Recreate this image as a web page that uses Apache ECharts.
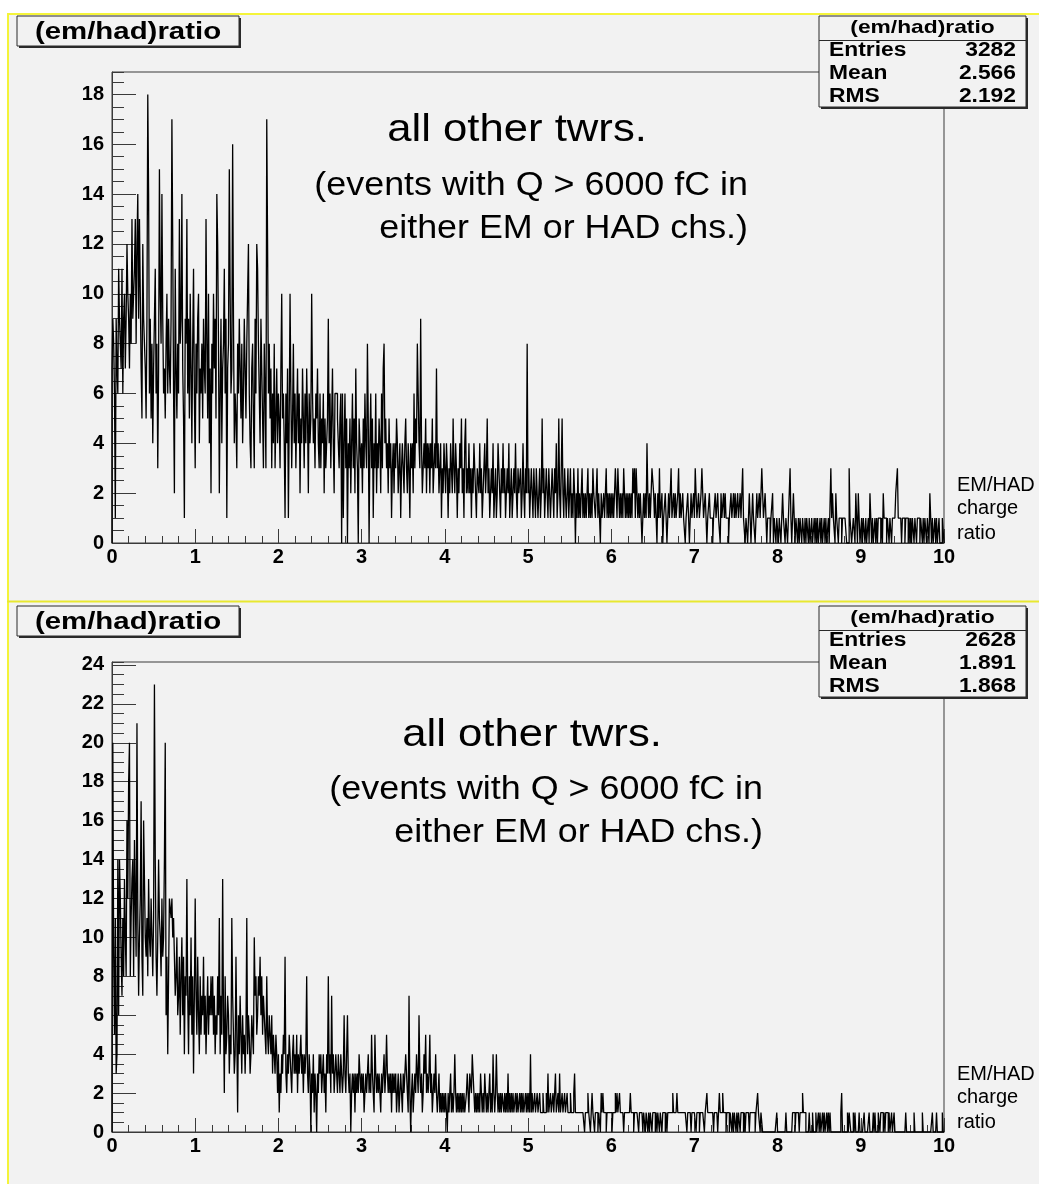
<!DOCTYPE html>
<html>
<head>
<meta charset="utf-8">
<title>(em/had)ratio</title>
<script src="https://cdn.jsdelivr.net/npm/echarts@6/dist/echarts.min.js"></script>
<style>
  html, body { margin: 0; padding: 0; background: #ffffff; }
  #chart { width: 1039px; height: 1184px; }
</style>
</head>
<body>
<div id="chart"></div>
<script>
// ---- histogram contents: 1000 bins of width 0.01 over [0, 10) ----
const BIN_WIDTH = 0.01;

// upper pad, one array per unit of the ratio
const upper0to1 = [
  7,9,8,6,1,9,7,6,11,9,   8,7,11,6,9,10,7,9,12,10,
  9,7,10,8,13,9,10,11,13,8, 12,14,9,13,10,7,5,12,9,8,
  7,5,9,18,14,6,9,5,8,4,  7,9,11,6,8,3,7,15,10,8,
  14,9,6,7,5,8,10,6,9,7,  6,9,17,12,6,2,11,7,5,8,
  6,13,8,9,14,7,5,1,9,8,  13,6,9,5,10,7,4,8,11,6
];
const upper1to2 = [
  3,8,6,9,10,4,7,6,8,5,   9,7,6,13,8,5,10,4,7,2,
  8,6,10,7,9,5,14,12,8,2, 6,9,4,7,8,11,6,9,1,7,
  8,15,10,6,7,16,9,4,6,5, 3,8,6,9,7,5,8,4,6,9,
  7,5,8,10,12,6,4,3,7,8,  5,3,9,6,12,11,8,6,4,9,
  7,5,3,8,6,3,17,12,6,8,  5,7,3,6,4,8,3,5,7,4
];
const upper2to3 = [
  6,5,3,7,10,5,6,4,1,6,   4,7,1,5,10,6,3,5,8,4,
  6,3,5,7,4,6,2,5,4,7,    5,3,6,4,7,5,2,6,4,5,
  10,6,4,5,3,6,5,7,4,3,   6,3,5,4,6,2,5,3,4,5,
  9,4,6,3,5,7,4,2,6,6,    6,5,4,3,5,6,0,6,1,4,
  6,3,5,0,4,3,5,2,4,6,    3,5,2,7,4,3,0,5,4,3
];
const upper3to4 = [
  4,2,5,3,6,4,3,8,5,0,    4,6,3,5,1,4,3,6,2,4,
  3,5,4,2,6,3,7,8,4,5,    3,4,2,5,3,4,1,3,4,2,
  4,3,5,4,2,3,4,1,3,4,    3,2,4,5,3,2,4,3,1,4,
  3,4,2,6,3,5,4,8,6,4,    3,9,4,2,3,4,3,5,2,4,
  3,4,2,4,3,5,2,3,4,3,    7,3,4,2,3,4,1,3,2,4
];
const upper4to5 = [
  3,2,4,3,1,3,2,4,3,2,    5,3,2,4,3,1,3,2,4,3,
  5,2,3,1,4,5,2,3,2,4,    2,3,1,3,2,4,3,2,1,3,
  3,2,4,2,3,1,2,3,4,2,    3,5,2,3,1,2,3,2,4,1,
  2,3,1,2,4,3,2,1,3,2,    4,2,3,1,2,3,2,4,1,2,
  3,1,2,3,2,4,2,1,3,2,    2,3,1,2,4,2,1,3,2,8
];
const upper5to6 = [
  2,3,1,2,3,2,1,3,2,1,    3,2,1,2,3,1,2,5,2,3,
  1,2,3,2,1,3,2,1,2,3,    2,1,3,2,4,1,2,5,2,1,
  3,5,2,1,3,2,1,2,3,1,    2,3,1,2,1,3,2,0,2,1,
  3,1,2,1,2,3,1,2,1,2,    1,2,3,1,2,1,2,1,3,2,
  2,1,2,3,1,2,1,0,2,1,    1,2,1,2,3,1,2,1,2,1
];
const upper6to7 = [
  2,1,2,1,2,3,2,1,3,2,    1,2,1,2,1,3,2,1,2,1,
  2,1,2,1,2,1,3,2,3,1,    3,2,1,2,1,2,1,0,1,2,
  1,2,1,4,2,1,2,1,2,3,    3,2,1,2,1,0,2,1,3,1,
  1,2,0,1,1,2,1,0,1,2,    1,2,3,1,1,2,1,2,1,1,
  2,3,1,2,1,1,2,1,1,0,    1,1,2,1,0,1,2,1,1,2
];
const upper7to8 = [
  1,3,2,1,1,2,1,1,2,3,    3,1,1,2,1,0,1,1,2,1,
  1,1,0,1,1,2,1,1,2,1,    1,0,2,1,1,2,1,2,1,1,
  1,0,1,1,2,1,1,2,1,2,    1,1,2,1,1,2,1,1,3,1,
  1,0,1,1,0,1,2,1,0,1,    2,1,1,0,1,2,1,1,2,1,
  2,3,2,1,1,2,1,0,1,1,    1,0,1,1,2,0,1,1,0,1
];
const upper8to9 = [
  1,0,1,1,0,1,2,1,1,0,    1,1,0,1,1,3,1,0,1,2,
  1,0,1,1,0,1,0,1,1,0,    1,1,0,1,0,1,1,0,1,0,
  0,1,0,0,1,0,1,0,1,0,    0,1,0,1,0,0,1,0,1,0,
  0,1,0,0,3,1,2,1,1,0,    2,1,1,0,1,1,1,0,1,1,
  1,1,1,0,0,0,3,1,1,0,    0,1,1,0,2,1,0,2,1,0
];
const upper9to10 = [
  0,1,0,1,1,0,1,0,0,1,    0,2,1,0,1,0,0,1,0,1,
  0,1,1,1,0,1,0,2,1,1,    1,0,1,1,0,1,1,0,1,1,
  1,1,2,2,3,1,1,1,1,0,    1,1,1,0,1,1,1,0,1,0,
  1,0,1,1,0,1,1,0,1,1,    1,0,1,1,0,1,0,1,1,0,
  1,1,0,2,1,0,1,0,0,1,    0,1,0,0,1,0,0,0,1,1
];

// lower pad
const lower0to1 = [
  3,20,9,5,11,3,4,14,6,14,  12,9,7,11,8,13,10,8,16,12,
  18,20,8,11,13,14,8,15,12,9, 21,11,7,10,12,17,9,7,16,13,
  10,9,11,8,13,10,9,12,10,8, 11,23,14,9,7,10,14,11,10,8,
  12,9,10,14,20,6,9,4,8,12, 12,11,12,10,11,9,7,8,10,6,
  7,9,5,8,10,6,9,4,8,7,     13,7,4,8,6,10,5,8,3,7
];
const lower1to2 = [
  12,7,5,9,6,4,8,5,7,6,   9,5,7,4,6,8,5,7,6,8,
  6,8,5,7,4,6,5,8,6,11,   4,7,5,13,6,2,8,4,5,7,
  6,3,5,4,11,7,5,3,4,9,   5,1,6,4,7,5,3,6,4,5,
  3,5,11,4,6,5,3,4,6,5,   4,10,7,8,5,6,8,7,9,6,
  8,5,7,6,5,4,8,5,4,6,    5,4,6,3,5,4,3,5,4,2
];
const lower2to3 = [
  4,1,3,2,4,3,5,4,9,3,    2,4,3,5,4,3,2,4,5,3,
  4,3,5,2,4,3,4,5,3,4,    2,4,3,4,8,3,2,4,3,0,
  3,2,4,1,3,2,0,3,2,4,    3,4,2,3,4,2,3,1,4,3,
  8,3,4,2,7,3,4,2,3,4,    3,2,4,3,2,4,3,2,3,6,
  3,2,4,6,3,2,3,0,2,3,    2,3,1,3,2,3,2,4,3,2
];
const lower3to4 = [
  3,2,3,1,2,3,2,3,4,2,    3,2,5,3,2,1,5,3,2,3,
  2,3,2,1,3,2,3,4,2,3,    5,3,2,3,2,3,1,3,2,3,
  2,3,1,2,3,1,2,3,2,1,    3,2,3,4,4,2,1,7,2,0,
  2,3,1,2,3,2,4,3,2,6,    3,2,3,1,2,4,3,5,2,3,
  2,3,5,2,3,1,2,3,2,4,    2,1,2,3,1,2,1,2,1,2
];
const lower4to5 = [
  1,2,1,0,2,1,2,3,1,2,    1,2,4,2,1,2,1,2,1,2,
  1,2,1,2,1,1,2,3,2,1,    3,3,2,4,3,2,1,2,1,2,
  1,2,1,3,2,1,2,1,3,2,    1,2,1,2,3,1,2,1,4,2,
  1,2,4,2,1,2,1,2,1,2,    2,1,2,1,2,1,3,1,2,1,
  2,1,2,1,1,2,1,2,1,1,    2,1,2,1,2,1,1,2,1,2
];
const lower5to6 = [
  1,2,1,4,1,2,1,1,2,1,    1,2,1,1,2,1,1,1,2,1,
  1,1,2,1,3,1,1,2,1,1,    2,1,1,3,1,1,2,1,3,1,
  1,2,1,1,2,1,1,2,1,1,    1,2,1,1,1,2,3,1,1,1,
  1,1,1,1,1,1,1,1,0,1,    1,1,2,1,1,0,1,2,1,1,
  0,1,1,1,0,1,1,0,2,1,    2,1,1,1,0,1,1,1,1,1
];
const lower6to7 = [
  1,0,1,1,1,2,1,2,1,1,    2,1,1,1,1,0,1,1,1,1,
  1,1,1,2,1,1,1,0,1,1,    1,1,1,0,1,1,1,1,0,1,
  1,0,1,1,0,1,0,1,1,0,    1,1,1,0,1,0,1,1,0,1,
  1,0,1,1,1,0,1,0,1,1,    1,1,1,1,2,1,1,1,1,2,
  1,1,1,1,1,1,1,1,1,1,    1,0,1,1,1,1,0,1,1,1
];
const lower7to8 = [
  1,1,0,1,1,1,0,1,1,1,    1,1,0,1,1,2,1,1,1,1,
  1,1,1,0,1,1,1,1,0,1,    2,1,1,1,2,1,1,1,0,1,
  1,1,0,1,1,0,1,0,1,1,    0,1,0,1,1,0,1,1,1,0,
  1,0,1,1,1,1,0,1,1,1,    1,1,1,0,1,1,2,1,1,0,
  1,1,0,0,0,0,0,0,0,0,    0,0,0,0,0,0,0,0,0,1
];
const lower8to9 = [
  0,0,0,0,0,0,0,0,0,0,    1,0,0,0,0,0,0,0,1,1,
  1,0,1,1,1,1,0,1,1,1,    2,1,1,1,0,0,0,0,1,0,
  0,0,1,0,0,0,1,0,0,1,    0,1,0,0,1,0,1,0,0,1,
  0,1,0,1,0,0,0,0,0,0,    0,0,0,0,0,0,1,2,0,0,
  0,0,0,0,1,0,1,1,0,0,    0,1,0,1,0,0,0,0,1,0
];
const lower9to10 = [
  0,0,0,0,1,0,0,0,0,0,    1,0,0,0,0,1,0,1,0,0,
  0,1,1,0,1,1,1,0,1,0,    1,1,1,0,1,0,0,1,0,0,
  1,0,0,0,0,0,0,0,0,0,    0,0,0,0,1,0,0,0,0,0,
  0,0,0,0,1,0,0,0,0,0,    0,0,0,0,1,0,0,0,0,0,
  0,0,0,0,0,0,1,0,0,0,    0,1,0,0,0,0,0,0,1,0
];

const upperCounts = [].concat(upper0to1, upper1to2, upper2to3, upper3to4, upper4to5,
                              upper5to6, upper6to7, upper7to8, upper8to9, upper9to10);
const lowerCounts = [].concat(lower0to1, lower1to2, lower2to3, lower3to4, lower4to5,
                              lower5to6, lower6to7, lower7to8, lower8to9, lower9to10);

// statistics box rows
const histName = '(em/had)ratio';
const upperStats = [['Entries', '3282'], ['Mean', '2.566'], ['RMS', '2.192']];
const lowerStats = [['Entries', '2628'], ['Mean', '1.891'], ['RMS', '1.868']];

// annotation text
const noteLines = ['all other twrs.', '(events with Q > 6000 fC in', 'either EM or HAD chs.)'];
const xTitleLines = ['EM/HAD', 'charge', 'ratio'];

// ---- drawing ----
const FONT = '"Liberation Sans", Arial, Helvetica, sans-serif';
const PAD_FILL = '#f2f2f2';
const AXIS_COLOR = '#3a3a3a';
const FRAME = { left: 112, width: 832 };

const panels = [
  { counts: upperCounts, stats: upperStats, frameTop: 72, frameHeight: 471, boxTop: 16,
    noteY: [130.5, 186, 229], noteCenterX: 517, noteRightX: 748 },
  { counts: lowerCounts, stats: lowerStats, frameTop: 662, frameHeight: 470, boxTop: 606,
    noteY: [735, 790, 833], noteCenterX: 532, noteRightX: 763 }
];

// outline of a histogram: steps along bin edges, closed to zero at both ends
function outline(counts) {
  const pts = [[0, 0]];
  counts.forEach((c, i) => pts.push([i * BIN_WIDTH, c]));
  const end = counts.length * BIN_WIDTH;
  pts.push([end, counts[counts.length - 1]]);
  pts.push([end, 0]);
  return pts;
}

function text(x, y, str, font, align, scaleX) {
  return {
    type: 'text', x: x, y: y, scaleX: scaleX || 1, z: 100, silent: true,
    style: {
      text: str, font: font, fill: '#000',
      align: align, verticalAlign: 'middle',
      textAlign: align, textVerticalAlign: 'middle'
    }
  };
}

function box(x, y, w, h) {
  return [
    { type: 'rect', z: 98, silent: true, shape: { x: x + 2, y: y + 2, width: w, height: h },
      style: { fill: '#2a2a2a' } },
    { type: 'rect', z: 99, silent: true, shape: { x: x, y: y, width: w, height: h },
      style: { fill: PAD_FILL, stroke: '#2a2a2a', lineWidth: 1 } }
  ];
}

const grids = [], xAxes = [], yAxes = [], series = [], graphics = [];

// white margins and yellow pad borders
graphics.push(
  { type: 'rect', z: 90, silent: true, shape: { x: 0, y: 0, width: 1039, height: 13 }, style: { fill: '#ffffff' } },
  { type: 'rect', z: 90, silent: true, shape: { x: 0, y: 0, width: 7, height: 1184 }, style: { fill: '#ffffff' } },
  { type: 'line', z: 91, silent: true, shape: { x1: 7, y1: 14, x2: 1039, y2: 14 }, style: { stroke: '#f4f43a', lineWidth: 2 } },
  { type: 'line', z: 91, silent: true, shape: { x1: 8, y1: 13, x2: 8, y2: 1184 }, style: { stroke: '#f4f43a', lineWidth: 2 } },
  { type: 'line', z: 91, silent: true, shape: { x1: 7, y1: 601.5, x2: 1039, y2: 601.5 }, style: { stroke: '#e8e830', lineWidth: 2 } }
);

panels.forEach((p, k) => {
  const yMax = Math.max.apply(null, p.counts) * 1.05;
  grids.push({
    left: FRAME.left, top: p.frameTop, width: FRAME.width, height: p.frameHeight,
    show: true, borderColor: AXIS_COLOR, borderWidth: 1, backgroundColor: 'transparent'
  });
  xAxes.push({
    type: 'value', gridIndex: k, min: 0, max: 10, interval: 1,
    axisLine: { show: true, onZero: false, lineStyle: { color: AXIS_COLOR, width: 1 } },
    axisTick: { show: true, inside: true, length: 14, lineStyle: { color: AXIS_COLOR } },
    minorTick: { show: true, splitNumber: 5, length: 7, lineStyle: { color: AXIS_COLOR } },
    splitLine: { show: false },
    axisLabel: { color: '#000', fontFamily: FONT, fontWeight: 'bold', fontSize: 20, margin: 4 }
  });
  // labelled axis with the long ticks
  yAxes.push({
    type: 'value', gridIndex: k, position: 'left', min: 0, max: yMax, interval: 2,
    axisLine: { show: true, onZero: false, lineStyle: { color: AXIS_COLOR, width: 1 } },
    axisTick: { show: true, inside: true, length: 24, lineStyle: { color: AXIS_COLOR } },
    splitLine: { show: false },
    axisLabel: { showMaxLabel: false, color: '#000', fontFamily: FONT, fontWeight: 'bold', fontSize: 20, margin: 8 }
  });
  // companion axis carrying the short ticks every 0.5
  yAxes.push({
    type: 'value', gridIndex: k, position: 'left', offset: 0, min: 0, max: yMax, interval: 0.5,
    axisLine: { show: false },
    axisTick: { show: true, inside: true, length: 12, lineStyle: { color: AXIS_COLOR } },
    splitLine: { show: false },
    axisLabel: { show: false }
  });
  series.push({
    type: 'line', xAxisIndex: k, yAxisIndex: 2 * k, step: 'end',
    data: outline(p.counts), showSymbol: false, symbol: 'none', silent: true,
    lineStyle: { color: '#000', width: 1.3 }
  });

  // title box
  const bt = p.boxTop;
  graphics.push(...box(17, bt, 222, 30));
  graphics.push(text(128, bt + 16, histName, 'bold 24.5px ' + FONT, 'center', 1.2));

  // statistics box
  graphics.push(...box(819, bt, 207, 91));
  graphics.push({ type: 'line', z: 100, silent: true, shape: { x1: 819, y1: bt + 24.5, x2: 1026, y2: bt + 24.5 },
                  style: { stroke: '#2a2a2a', lineWidth: 1 } });
  graphics.push(text(922.5, bt + 12, histName, 'bold 19px ' + FONT, 'center', 1.2));
  p.stats.forEach((row, r) => {
    const y = bt + 34.5 + r * 23;
    graphics.push(text(829, y, row[0], 'bold 19.5px ' + FONT, 'left', 1.17));
    graphics.push(text(1016, y, row[1], 'bold 19.5px ' + FONT, 'right', 1.17));
  });

  // annotation
  graphics.push(text(p.noteCenterX, p.noteY[0], noteLines[0], '39px ' + FONT, 'center', 1.12));
  graphics.push(text(p.noteRightX, p.noteY[1], noteLines[1], '34px ' + FONT, 'right', 1.055));
  graphics.push(text(p.noteRightX, p.noteY[2], noteLines[2], '34px ' + FONT, 'right', 1.055));

  // axis title at the right end of the x axis
  const fb = p.frameTop + p.frameHeight;
  [57.5, 34.5, 9.5].forEach((d, j) => {
    graphics.push(text(957, fb - d, xTitleLines[j], '20px ' + FONT, 'left', 1));
  });
});

const chart = echarts.init(document.getElementById('chart'), null, { renderer: 'canvas' });
chart.setOption({
  backgroundColor: PAD_FILL,
  animation: false,
  grid: grids,
  xAxis: xAxes,
  yAxis: yAxes,
  series: series,
  graphic: { elements: graphics }
});
</script>
</body>
</html>
